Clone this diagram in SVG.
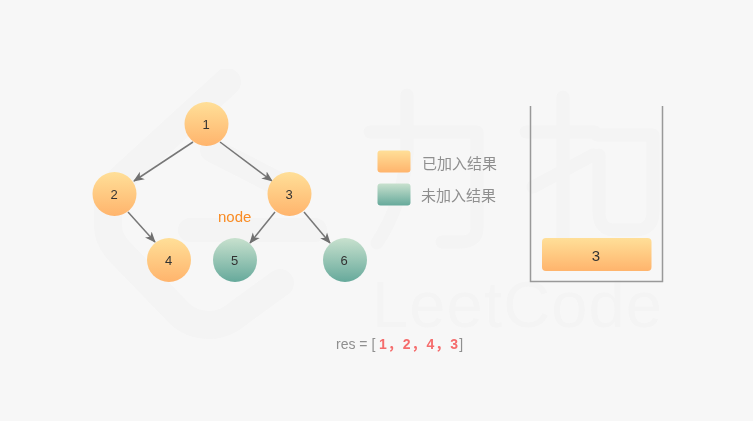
<svg xmlns="http://www.w3.org/2000/svg" width="753" height="421" viewBox="0 0 753 421">
<style>
text{font-family:"Liberation Sans","Noto Sans CJK SC",sans-serif}
.n{font-size:13px;fill:#333;text-anchor:middle}
.o{fill:url(#or)}.g{fill:url(#gr)}
.e{fill:none;stroke:#777;stroke-width:1.5;marker-end:url(#ar)}
.l{font-size:15px;fill:#8f8f8f}
.w{fill:none;stroke:#f4f4f4;stroke-linecap:round;stroke-linejoin:round}
.r{font-weight:bold;fill:#f56c6c;letter-spacing:1px}
.s{filter:url(#soft)}
</style>
<defs>
<linearGradient id="or" x1="0" y1="0" x2="0" y2="1"><stop offset="0" stop-color="#ffdf98"/><stop offset="1" stop-color="#ffb46c"/></linearGradient>
<linearGradient id="gr" x1="0" y1="0" x2="0" y2="1"><stop offset="0" stop-color="#c8e1ce"/><stop offset="1" stop-color="#66a99b"/></linearGradient>
<marker id="ar" markerWidth="12" markerHeight="10" refX="10" refY="5" orient="auto" markerUnits="userSpaceOnUse"><path d="M0,0.5L11,5L0,9.500L3,5Z" fill="#6f6f6f"/></marker>
<filter id="soft" x="-5%" y="-5%" width="110%" height="110%"><feGaussianBlur stdDeviation="0.4"/></filter>
</defs>
<rect width="753" height="421" fill="#f7f7f7"/>
<g id="watermark" class="s">
<path class="w" stroke-width="13" d="M370 132H477V228Q477 242 460 242H442M407 95V155Q402 205 377 243"/>
<path class="w" stroke-width="13" d="M526 132H595M563 97V245M533 187L593 155M597 135H653V212Q653 230 635 230H615Q599 230 599 212V155"/>
<path class="w" stroke-width="28" d="M227 82L120 180Q108 192 108 210V225Q108 240 120 252L178 312Q190 325 210 325Q225 325 240 312L280 283"/>
<path class="w" stroke-width="24" d="M190 230H315M212 150L290 190"/>
<text x="372" y="327" font-size="65" textLength="290" lengthAdjust="spacing" fill="#f4f4f4">LeetCode</text>
</g>
<g id="connectors" class="s">
<path class="e" d="M193 142L134 181"/>
<path class="e" d="M220 142L272 181"/>
<path class="e" d="M128 212L155 242"/>
<path class="e" d="M275 212L250 243"/>
<path class="e" d="M304 212L330 243"/>
</g>
<g id="node1" class="s"><circle class="o" cx="206.500" cy="124" r="22"/><text class="n" x="206" y="128.500">1</text></g>
<g id="node2" class="s"><circle class="o" cx="114.500" cy="194" r="22"/><text class="n" x="114" y="198.500">2</text></g>
<g id="node3" class="s"><circle class="o" cx="289.500" cy="194" r="22"/><text class="n" x="289" y="198.500">3</text></g>
<g id="node4" class="s"><circle class="o" cx="169" cy="260" r="22"/><text class="n" x="168.500" y="264.500">4</text></g>
<g id="node5" class="s"><circle class="g" cx="235" cy="260" r="22"/><text class="n" x="234.500" y="264.500">5</text></g>
<g id="node6" class="s"><circle class="g" cx="345" cy="260" r="22"/><text class="n" x="344" y="264.500">6</text></g>
<text id="node-label" class="s" x="218" y="222" font-size="15" fill="#f98c25">node</text>
<g id="legend" class="s">
<rect class="o" x="377.500" y="150.500" width="33" height="22" rx="3"/>
<rect class="g" x="377.500" y="183.500" width="33" height="22" rx="3"/>
<text class="l" x="422" y="168.500">已加入结果</text>
<text class="l" x="421" y="201">未加入结果</text>
</g>
<g id="stack" class="s">
<path d="M530.500 106V281.500H662.500V106" fill="none" stroke="#999" stroke-width="1.500"/>
<rect class="o" x="542" y="238" width="109.500" height="33" rx="4"/>
<text x="596" y="260.500" font-size="15" fill="#333" text-anchor="middle">3</text>
</g>
<text id="res" class="s" x="336" y="349" font-size="14" fill="#8f8f8f">res = [<tspan class="r" x="379">1，2，4，3</tspan>]</text>
</svg>
